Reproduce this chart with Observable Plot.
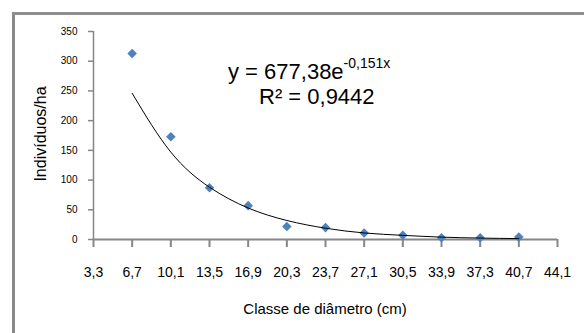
<!DOCTYPE html>
<html><head><meta charset="utf-8">
<script src="https://cdn.jsdelivr.net/npm/d3@7"></script>
<script src="https://cdn.jsdelivr.net/npm/@observablehq/plot@0.6"></script>
<style>
html,body{margin:0;padding:0;background:#fff;overflow:hidden}
#wrap{position:relative;width:584px;height:333px;overflow:hidden}
#frame{position:absolute;left:12px;top:12px;width:620px;height:400px;border-left:3px solid #898989;border-top:3px solid #8f8f8f;box-sizing:border-box}
#wrap svg{position:absolute;left:0;top:0}
</style></head><body><div id="wrap"><div id="frame"></div></div>
<script>
const diameterClasses = [6.7, 10.1, 13.5, 16.9, 20.3, 23.7, 27.1, 30.5, 33.9, 37.3, 40.7];
const individuals = [313, 173, 87, 57, 22, 20, 11, 7, 3, 3, 4];
const trendValues = [246, 147, 88, 53, 32, 19, 11, 7, 4, 2.4, 1.5];
const xTicks = [3.3, 6.7, 10.1, 13.5, 16.9, 20.3, 23.7, 27.1, 30.5, 33.9, 37.3, 40.7, 44.1];
const yTicks = [0, 50, 100, 150, 200, 250, 300, 350];
const xTitle = "Classe de diâmetro (cm)";
const yTitle = "Indivíduos/ha";
const eqMain = "y = 677,38e";
const eqExp = "-0,151x";
const r2Text = "R² = 0,9442";

const data = diameterClasses.map((x, i) => ({x, y: individuals[i], t: trendValues[i]}));
const fmt = d => d.toFixed(1).replace(".", ",");
const font = "'Liberation Sans', Arial, sans-serif";

const chart = Plot.plot({
  width: 584, height: 333,
  marginLeft: 93, marginRight: 27, marginTop: 31, marginBottom: 94,
  style: {fontFamily: font, background: "transparent", overflow: "visible", color: "#000"},
  x: {domain: [3.3, 44.1]},
  y: {domain: [0, 350]},
  marks: [
    Plot.ruleX([3.3], {stroke: "#868686", strokeWidth: 1.5}),
    Plot.axisY(yTicks, {tickSize: 5, tickPadding: 11, fontSize: 10, label: null, stroke: "#868686", strokeWidth: 1.5, fill: "#000"}),
    Plot.axisX(xTicks, {tickSize: 8, tickPadding: 20, fontSize: 14, label: null, tickFormat: fmt, stroke: "#868686", strokeWidth: 2, fill: "#000"}),
    Plot.ruleY([0], {stroke: "#868686", strokeWidth: 2}),
    Plot.dot(data, {x: "x", y: "y", symbol: "diamond2", r: 4.3, fill: "#4F81BD", stroke: "none"}),
    Plot.line(data, {x: "x", y: "t", stroke: "#000", strokeWidth: 1, curve: "natural"})
  ]
});
document.getElementById("wrap").appendChild(chart);

const svg = d3.select(chart);
svg.append("text")
  .attr("transform", "translate(46,134) rotate(-90)")
  .attr("text-anchor", "middle")
  .style("font-family", font).style("font-size", "16px").attr("fill", "#000")
  .text(yTitle);
svg.append("text")
  .attr("x", 325).attr("y", 314)
  .attr("text-anchor", "middle")
  .style("font-family", font).style("font-size", "15px").attr("fill", "#000")
  .text(xTitle);
const eq = svg.append("text")
  .attr("x", 228).attr("y", 79)
  .attr("text-anchor", "start")
  .style("font-family", font).style("font-size", "22px").attr("fill", "#000");
eq.append("tspan").text(eqMain);
eq.append("tspan").attr("dy", -11).style("font-size", "14px").text(eqExp);
svg.append("text")
  .attr("x", 259).attr("y", 104)
  .attr("text-anchor", "start")
  .style("font-family", font).style("font-size", "22px").attr("fill", "#000")
  .text(r2Text);
</script></body></html>
